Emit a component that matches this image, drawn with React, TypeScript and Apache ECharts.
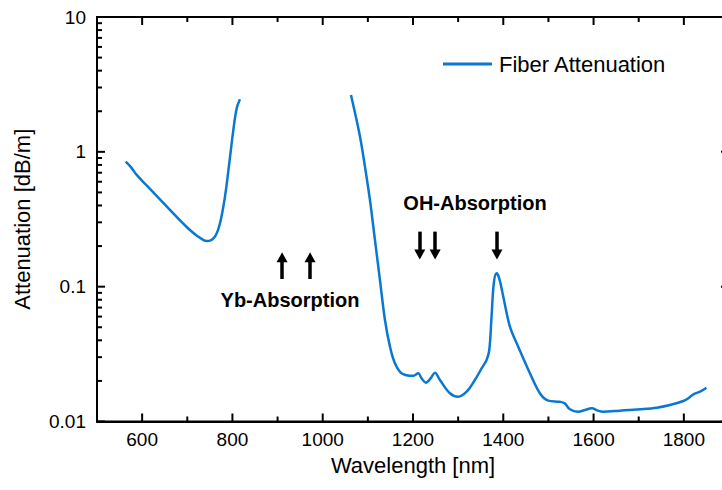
import React, { useEffect, useRef } from "react";
import * as echarts from "echarts";

const FONT = '"Liberation Sans", Arial, Helvetica, sans-serif';
const CURVE_COLOR = "#0a78d2";

const SERIES_NAME = "Fiber Attenuation";
const X_NAME = "Wavelength [nm]";
const Y_NAME = "Attenuation [dB/m]";

const X_MIN = 500;
const X_MAX = 1900;
const Y_MIN = 0.01;
const Y_MAX = 10;

// Visible-range segment (below Yb absorption band)
const seg1Wavelength = [563.5, 575, 588, 610, 639.5, 669, 698.7, 720.6, 743, 761, 772.4, 783.5, 793, 802, 809.4, 816.7];
const seg1Attenuation = [0.845, 0.77, 0.674, 0.563, 0.444, 0.349, 0.277, 0.24, 0.218, 0.235, 0.295, 0.465, 0.823, 1.45, 2.1, 2.45];

// NIR segment (above Yb absorption band)
const seg2Wavelength = [
  1062.6, 1075, 1084, 1093.6, 1104.6, 1115.7, 1126.8, 1137.9, 1149, 1160, 1174.6, 1200, 1211.7, 1219, 1228.7,
  1239, 1248.6, 1259.7, 1281.8, 1300, 1318.8, 1337, 1352, 1363, 1369, 1374, 1379, 1385, 1391, 1400, 1414.7,
  1433, 1459, 1481, 1499.5, 1525, 1536, 1547.6, 1566, 1581, 1596, 1610, 1621, 1658, 1703, 1740, 1769, 1799,
  1810, 1821, 1836, 1850,
];
const seg2Attenuation = [
  2.64, 1.72, 1.225, 0.777, 0.44, 0.222, 0.112, 0.0566, 0.0359, 0.027, 0.0228, 0.0218, 0.0228, 0.0209, 0.0194,
  0.0209, 0.023, 0.0203, 0.0162, 0.01527, 0.01664, 0.0203, 0.0248, 0.0286, 0.0339, 0.0599, 0.106, 0.1256, 0.1154,
  0.0843, 0.0505, 0.0359, 0.0228, 0.0162, 0.01427, 0.014, 0.01365, 0.01232, 0.01182, 0.01217, 0.01253, 0.01203,
  0.01182, 0.01203, 0.01232, 0.01266, 0.01326, 0.0142, 0.01486, 0.01591, 0.01664, 0.0178,
];

// Tick positions
const xMajorTicks = [600, 800, 1000, 1200, 1400, 1600, 1800];
const xMinorTicks = [700, 900, 1100, 1300, 1500, 1700, 1900];
const yMajorTicks = [0.01, 0.1, 1, 10];
const yMinorTicks = [
  0.02, 0.03, 0.04, 0.05, 0.06, 0.07, 0.08, 0.09,
  0.2, 0.3, 0.4, 0.5, 0.6, 0.7, 0.8, 0.9,
  2, 3, 4, 5, 6, 7, 8, 9,
];

// Annotation arrows (wavelength, tail value, head value)
const ybArrowWavelengths = [910, 972];
const ybArrowTail = 0.114;
const ybArrowHead = 0.165;
const ohArrowWavelengths = [1215, 1249, 1386];
const ohArrowTail = 0.256;
const ohArrowHead = 0.173;

const YB_LABEL = "Yb-Absorption";
const OH_LABEL = "OH-Absorption";

const MAJOR_LEN = 8;
const MINOR_LEN = 5;

function zip(xs: number[], ys: number[]) {
  return xs.map((x, i) => [x, ys[i]]);
}

// One custom series per side and tick size; each item draws a single line
function tickSeries(side: string, values: number[], len: number) {
  const isY = side === "left" || side === "right";
  const fixed = side === "left" ? X_MIN : side === "right" ? X_MAX : side === "bottom" ? Y_MIN : Y_MAX;
  const dx = side === "left" ? len : side === "right" ? -len : 0;
  const dy = side === "bottom" ? -len : side === "top" ? len : 0;
  return {
    type: "custom",
    silent: true,
    clip: false,
    z: 10,
    data: values.map((v) => (isY ? [fixed, v] : [v, fixed])),
    renderItem: (_params: any, api: any) => {
      const p = api.coord([api.value(0), api.value(1)]);
      return {
        type: "line",
        shape: { x1: p[0], y1: p[1], x2: p[0] + dx, y2: p[1] + dy },
        style: { stroke: "#000", lineWidth: 2 },
      };
    },
  };
}

export default function App() {
  const ref = useRef<HTMLDivElement>(null);

  useEffect(() => {
    if (!ref.current) return;
    const chart = echarts.init(ref.current, null, { renderer: "svg" });

    const arrowLines = [
      ...ybArrowWavelengths.map((w) => [{ coord: [w, ybArrowTail] }, { coord: [w, ybArrowHead] }]),
      ...ohArrowWavelengths.map((w) => [{ coord: [w, ohArrowTail] }, { coord: [w, ohArrowHead] }]),
    ];

    const option: any = {
      animation: false,
      textStyle: { fontFamily: FONT },
      grid: {
        show: true,
        borderColor: "#000",
        borderWidth: 2,
        backgroundColor: "transparent",
        left: 97,
        top: 17,
        right: 11,
        bottom: 68.5,
        containLabel: false,
        outerBoundsMode: "none",
      },
      legend: {
        data: [{ name: SERIES_NAME, icon: "rect" }],
        left: 438,
        top: 48,
        itemWidth: 49,
        itemHeight: 3,
        textStyle: { fontSize: 22, color: "#000", fontFamily: FONT, padding: [0, 0, 0, 2] },
      },
      xAxis: {
        type: "value",
        min: X_MIN,
        max: X_MAX,
        splitNumber: 7,
        name: X_NAME,
        nameLocation: "middle",
        nameGap: 33,
        nameTextStyle: { fontSize: 22, color: "#000", fontFamily: FONT },
        axisLine: { show: true, onZero: false, lineStyle: { color: "#000", width: 2 } },
        axisTick: { show: false },
        splitLine: { show: false },
        axisLabel: {
          show: true,
          margin: 8,
          fontSize: 19,
          color: "#000",
          fontFamily: FONT,
          showMinLabel: false,
          showMaxLabel: false,
          formatter: (v: number) => String(v),
        },
      },
      yAxis: {
        type: "log",
        logBase: 10,
        min: Y_MIN,
        max: Y_MAX,
        name: Y_NAME,
        nameLocation: "middle",
        nameGap: 64,
        nameTextStyle: { fontSize: 22, color: "#000", fontFamily: FONT },
        axisLine: { show: true, onZero: false, lineStyle: { color: "#000", width: 2 } },
        axisTick: { show: false },
        splitLine: { show: false },
        axisLabel: { margin: 11, fontSize: 19, color: "#000", fontFamily: FONT, formatter: (v: number) => String(v) },
      },
      graphic: [
        {
          type: "text",
          x: 290,
          y: 300,
          style: {
            text: YB_LABEL,
            fontSize: 20,
            fontWeight: "bold",
            fontFamily: FONT,
            fill: "#000",
            align: "center",
            verticalAlign: "middle",
          },
        },
        {
          type: "text",
          x: 475,
          y: 203,
          style: {
            text: OH_LABEL,
            fontSize: 20,
            fontWeight: "bold",
            fontFamily: FONT,
            fill: "#000",
            align: "center",
            verticalAlign: "middle",
          },
        },
      ],
      series: [
        {
          name: SERIES_NAME,
          type: "line",
          data: zip(seg1Wavelength, seg1Attenuation),
          symbol: "none",
          smooth: 0.35,
          lineStyle: { color: CURVE_COLOR, width: 2.5 },
          itemStyle: { color: CURVE_COLOR },
          markLine: {
            silent: true,
            symbol: ["none", "triangle"],
            symbolSize: [11, 10],
            label: { show: false },
            lineStyle: { color: "#000", width: 3.5, type: "solid" },
            itemStyle: { color: "#000" },
            emphasis: { disabled: true },
            data: arrowLines,
          },
        },
        {
          name: SERIES_NAME,
          type: "line",
          data: zip(seg2Wavelength, seg2Attenuation),
          symbol: "none",
          smooth: 0.35,
          lineStyle: { color: CURVE_COLOR, width: 2.5 },
          itemStyle: { color: CURVE_COLOR },
        },
        tickSeries("left", yMajorTicks, MAJOR_LEN),
        tickSeries("left", yMinorTicks, MINOR_LEN),
        tickSeries("right", yMajorTicks, MAJOR_LEN),
        tickSeries("right", yMinorTicks, MINOR_LEN),
        tickSeries("bottom", xMajorTicks, MAJOR_LEN),
        tickSeries("bottom", xMinorTicks, MINOR_LEN),
        tickSeries("top", xMajorTicks, MAJOR_LEN),
        tickSeries("top", xMinorTicks, MINOR_LEN),
      ],
    };

    chart.setOption(option);
    return () => chart.dispose();
  }, []);

  return (
    <div style={{ position: "fixed", left: 0, top: 0, width: 722, height: 490, overflow: "hidden", background: "#fff" }}>
      <div ref={ref} style={{ width: 740, height: 490 }} />
    </div>
  );
}
